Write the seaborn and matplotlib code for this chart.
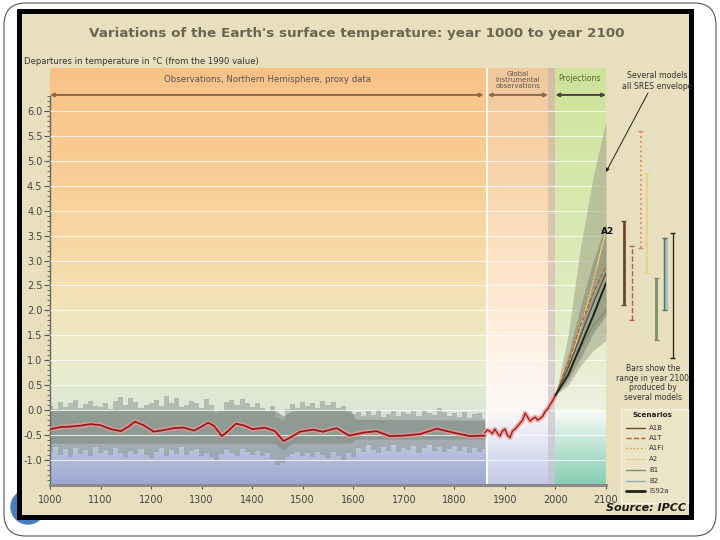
import numpy as np
import pandas as pd
import matplotlib
matplotlib.use("Agg")
import matplotlib.pyplot as plt
import seaborn as sns
from matplotlib.colors import LinearSegmentedColormap
from matplotlib.patches import Rectangle, FancyBboxPatch, Circle
from matplotlib.ticker import FixedLocator

# ---------------- data ----------------
title = "Variations of the Earth's surface temperature: year 1000 to year 2100"
ylabel = "Departures in temperature in \u00b0C (from the 1990 value)"
x_ticks = [1000, 1100, 1200, 1300, 1400, 1500, 1600, 1700, 1800, 1900, 2000, 2100]
y_ticks = [-1.0, -0.5, 0.0, 0.5, 1.0, 1.5, 2.0, 2.5, 3.0, 3.5, 4.0, 4.5, 5.0, 5.5, 6.0]
y_tick_labels = ["-1.0", "-0.5", "0.0", "0.5", "1.0", "1.5", "2.0", "2.5", "3.0",
                 "3.5", "4.0", "4.5", "5.0", "5.5", "6.0"]

proxy_years = [1000, 1020, 1040, 1060, 1080, 1100, 1120, 1140, 1155, 1168, 1185, 1205, 1225, 1245,
               1265, 1285, 1300, 1313, 1325, 1340, 1352, 1368, 1385, 1400, 1425, 1445, 1462, 1475,
               1495, 1520, 1540, 1567, 1592, 1620, 1646, 1672, 1700, 1732, 1765, 1798, 1831, 1860]
proxy_smooth = [-0.38, -0.34, -0.33, -0.31, -0.28, -0.30, -0.38, -0.42, -0.33, -0.23, -0.30, -0.43,
                -0.40, -0.36, -0.35, -0.41, -0.33, -0.25, -0.32, -0.52, -0.42, -0.27, -0.31, -0.38,
                -0.35, -0.42, -0.62, -0.55, -0.43, -0.39, -0.43, -0.36, -0.51, -0.45, -0.42, -0.52,
                -0.51, -0.48, -0.37, -0.45, -0.52, -0.51]

band_years = list(range(1000, 1861, 10))
band_upper = [0.08, 0.02, 0.16, 0.06, 0.14, 0.20, 0.04, 0.12, 0.18, 0.08, 0.06,
              0.14, 0.02, 0.18, 0.26, 0.10, 0.24, 0.16, 0.04, 0.10, 0.14,
              0.20, 0.08, 0.28, 0.14, 0.24, 0.06, 0.10, 0.18, 0.14, 0.04,
              0.22, 0.10, -0.06, 0.00, 0.16, 0.20, 0.10, 0.22, 0.14, 0.06,
              0.14, 0.04, -0.02, 0.08, -0.16, -0.20, 0.02, 0.12, 0.04, 0.16,
              0.08, 0.14, 0.04, 0.18, 0.10, 0.16, 0.04, 0.08, -0.04, -0.08,
              -0.04, -0.12, -0.02, -0.10, 0.00, -0.14, -0.08, -0.02, -0.12, -0.04,
              -0.08, -0.02, -0.12, 0.00, -0.06, -0.10, 0.04, -0.04, -0.12, -0.06,
              -0.14, -0.04, -0.16, -0.08, -0.06, -0.18]
band_lower = [-0.84, -0.74, -0.90, -0.78, -0.94, -0.76, -0.88, -0.80, -0.92, -0.74, -0.86,
              -0.80, -0.90, -0.76, -0.86, -0.94, -0.82, -0.88, -0.78, -0.90, -0.96,
              -0.84, -0.76, -0.92, -0.80, -0.88, -0.74, -0.90, -0.82, -0.78, -0.92,
              -0.86, -0.94, -1.00, -0.88, -0.80, -0.86, -0.92, -0.78, -0.84, -0.90,
              -0.82, -0.92, -0.86, -0.98, -1.10, -1.06, -0.94, -0.88, -0.84, -0.92,
              -0.86, -0.94, -0.84, -0.90, -0.96, -0.84, -0.92, -1.00, -0.86, -0.94,
              -0.76, -0.84, -0.70, -0.80, -0.86, -0.74, -0.82, -0.70, -0.84, -0.76,
              -0.80, -0.72, -0.86, -0.76, -0.70, -0.82, -0.74, -0.84, -0.78, -0.72,
              -0.82, -0.74, -0.86, -0.76, -0.84, -0.78]
core_years = [1000, 1445, 1462, 1480, 1595, 1605, 1860]
core_upper = [0.00, 0.00, -0.12, 0.00, 0.00, -0.18, -0.20]
core_lower = [-0.66, -0.66, -0.80, -0.66, -0.66, -0.58, -0.58]

instr_years = [1860, 1865, 1870, 1875, 1880, 1885, 1890, 1895, 1900, 1905, 1910, 1915, 1920, 1925,
               1930, 1935, 1940, 1945, 1950, 1955, 1960, 1965, 1970, 1975, 1980, 1985, 1990, 1995, 2000]
instr_values = [-0.45, -0.40, -0.42, -0.47, -0.38, -0.46, -0.52, -0.42, -0.38, -0.50, -0.55, -0.42,
                -0.38, -0.32, -0.26, -0.20, -0.06, -0.14, -0.22, -0.17, -0.14, -0.20, -0.16, -0.12,
                -0.02, 0.03, 0.12, 0.20, 0.30]

proj_years = [2000, 2025, 2050, 2075, 2100]
scen_A1B = [0.30, 0.85, 1.50, 2.15, 2.75]
scen_A1T = [0.30, 0.95, 1.70, 2.35, 2.90]
scen_A1FI = [0.30, 0.90, 1.75, 2.60, 3.35]
scen_A2 = [0.30, 0.85, 1.65, 2.60, 3.60]
scen_B1 = [0.30, 0.75, 1.25, 1.70, 2.00]
scen_B2 = [0.30, 0.85, 1.45, 2.05, 2.65]
scen_IS92a = [0.30, 0.70, 1.30, 1.90, 2.55]
env_outer_upper = [0.30, 1.50, 3.30, 4.70, 5.80]
env_outer_lower = [0.30, 0.50, 0.90, 1.20, 1.40]
env_inner_upper = [0.30, 1.10, 2.10, 3.00, 3.75]
env_inner_lower = [0.30, 0.60, 1.05, 1.55, 1.90]

scenario_names = ["A1B", "A1T", "A1FI", "A2", "B1", "B2", "IS92a"]
bar_low = [2.10, 1.80, 3.25, 2.75, 1.40, 2.00, 1.05]
bar_high = [3.80, 3.30, 5.60, 4.75, 2.65, 3.45, 3.55]

# ---------------- styles ----------------
scen_colors = {"A1B": "#6e4a2a", "A1T": "#b0603c", "A1FI": "#d49458", "A2": "#e6d28a",
               "B1": "#7b8f68", "B2": "#8fb0b8", "IS92a": "#1e2418"}
scen_styles = {"A1B": "-", "A1T": "--", "A1FI": ":", "A2": "-", "B1": "-", "B2": "-", "IS92a": "-"}
scen_lw = {"A1B": 1.0, "A1T": 0.9, "A1FI": 1.0, "A2": 0.9, "B1": 0.9, "B2": 1.0, "IS92a": 1.4}
bar_x = [2135, 2151, 2169, 2181, 2199, 2215, 2232]
bar_lw = [2.0, 1.0, 1.3, 1.6, 2.0, 2.6, 0.9]

sns.set_theme(style="white")
plt.rcParams["font.family"] = ["DejaVu Sans"]

fig = plt.figure(figsize=(7.2, 5.4), dpi=100)

# background (pixel coordinates)
bg = fig.add_axes([0, 0, 1, 1], zorder=0)
bg.set_xlim(0, 720); bg.set_ylim(540, 0); bg.axis("off")
bg.add_patch(FancyBboxPatch((4, 3), 712, 533, boxstyle="round,pad=0,rounding_size=22",
                            facecolor="white", edgecolor="#555555", lw=0.8))
bg.add_patch(Circle((28, 507), 17, color="#4a7cc0"))
bg.add_patch(Rectangle((19, 11), 672, 506, facecolor="#e7dfbd", edgecolor="black", lw=3.6))

# main axes
ax = fig.add_axes([50 / 720, 55 / 540, 556 / 720, 417 / 540], zorder=1)
ax.patch.set_visible(False)
Y0, Y1 = -1.5, 6.86


def vgrad(x0, x1, y0, y1, stops, z=0.1):
    cmap = LinearSegmentedColormap.from_list("g", [((s - y0) / (y1 - y0), c) for s, c in stops])
    img = cmap(np.linspace(0, 1, 256))[:, None, :]
    ax.imshow(img, extent=[x0, x1, y0, y1], origin="lower", aspect="auto", zorder=z,
              interpolation="bilinear")


vgrad(1000, 1862, Y0, Y1, [(Y0, "#9ca8cf"), (-1.0, "#b0bad8"), (-0.5, "#c8d0df"), (0.0, "#dce5d6"),
                           (0.6, "#e6ecd0"), (1.5, "#eee9c4"), (3.0, "#f6dba8"), (4.5, "#f8cf98"),
                           (Y1, "#f9c287")])
vgrad(1866, 1985, Y0, Y1, [(Y0, "#c6cae6"), (-1.0, "#d6daee"), (-0.5, "#eaecf4"), (0.0, "#fbf8f4"),
                           (1.0, "#fff4ea"), (3.0, "#fde3c6"), (5.0, "#f8d2a8"), (Y1, "#f0c89c")])
vgrad(1985, 2000, Y0, Y1, [(Y0, "#bfc3d4"), (0.0, "#d8d4d8"), (3.0, "#dcc8b4"), (Y1, "#d6bca4")])
vgrad(2000, 2100, 0.0, Y1, [(0.0, "#eef2e2"), (1.5, "#e2ecc8"), (4.0, "#d8e8b0"), (Y1, "#cfe39a")])
vgrad(2000, 2100, Y0, 0.0, [(Y0, "#86ceb2"), (-0.8, "#b8e2d0"), (0.0, "#f8fbf6")])
ax.axvline(1864, color="white", lw=1.2, zorder=0.2)

# white horizontal lines
for yv in y_ticks:
    ax.axhline(yv, color="white", lw=0.8, alpha=0.75, zorder=3)

# proxy uncertainty band
ax.fill_between(band_years, band_lower, band_upper, step="mid", color="#86948c", alpha=0.5,
                lw=0, zorder=2)
ax.fill_between(core_years, core_lower, core_upper, color="#7c8a7e", alpha=0.6, lw=0, zorder=2)

# proxy smoothed
ax.plot(proxy_years, proxy_smooth, color="#e79a9a", lw=3.6, alpha=0.75, zorder=4,
        solid_capstyle="round")
sns.lineplot(x=proxy_years, y=proxy_smooth, color="#9a1a1a", lw=1.3, ax=ax, zorder=5)

# instrumental
ax.plot(instr_years, instr_values, color="#ee9a9a", lw=3.5, alpha=0.8, zorder=4)
sns.lineplot(x=instr_years, y=instr_values, color="#a01c1c", lw=1.0, ax=ax, zorder=5)

# projections envelopes
ax.fill_between(proj_years, env_outer_lower, env_outer_upper, color="#a4a88c", alpha=0.6, lw=0,
                zorder=3.5)
ax.fill_between(proj_years, env_inner_lower, env_inner_upper, color="#7f8672", alpha=0.55, lw=0,
                zorder=3.6)

scen_values = [scen_A1B, scen_A1T, scen_A1FI, scen_A2, scen_B1, scen_B2, scen_IS92a]
df = pd.DataFrame({"year": np.tile(proj_years, len(scenario_names)),
                   "value": np.concatenate(scen_values),
                   "scenario": np.repeat(scenario_names, len(proj_years))})
for name in ["A2", "A1FI", "B1", "B2", "A1B", "A1T", "IS92a"]:
    sns.lineplot(data=df[df.scenario == name], x="year", y="value", color=scen_colors[name],
                 lw=scen_lw[name], linestyle=scen_styles[name], ax=ax, zorder=6)

# range bars (year 2100) outside plot
for i, name in enumerate(scenario_names):
    ls = scen_styles[name]
    if name == "B2":
        ax.vlines(bar_x[i] + 3, bar_low[i], bar_high[i], color="#a8c0c0", lw=3, clip_on=False)
        ax.vlines(bar_x[i], bar_low[i], bar_high[i], color="#5a6a66", lw=1, clip_on=False)
    else:
        ax.vlines(bar_x[i], bar_low[i], bar_high[i], color=scen_colors[name], lw=bar_lw[i],
                  linestyles=ls, clip_on=False)
    capc = "#5a6a66" if name == "B2" else scen_colors[name]
    ax.hlines([bar_low[i], bar_high[i]], bar_x[i] - 5, bar_x[i] + 5, color=capc, lw=1,
              clip_on=False)

# header labels / arrows
ax.text(1431, 6.62, "Observations, Northern Hemisphere, proxy data", fontsize=6.2,
        color="#555", ha="center", va="center", zorder=7)
ax.text(1926, 6.62, "Global\ninstrumental\nobservations", fontsize=5.0, color="#555",
        ha="center", va="center", linespacing=1.0, zorder=7)
ax.text(2048, 6.64, "Projections", fontsize=5.6, color="#5a6a30", ha="center", va="center",
        zorder=7)
for a, b, c in [(1000, 1858, "#8b6a48"), (1866, 1985, "#8b6a48"), (2000, 2100, "#444")]:
    ax.annotate("", xy=(a, 6.32), xytext=(b, 6.32),
                arrowprops=dict(arrowstyle="<|-|>", color=c, lw=1.4, mutation_scale=5,
                                shrinkA=0, shrinkB=0), zorder=7)

# axes formatting
ax.set_xlim(1000, 2100)
ax.set_ylim(Y0, Y1)
ax.set_xticks(x_ticks)
ax.set_xticklabels([str(v) for v in x_ticks])
ax.set_yticks(y_ticks)
ax.set_yticklabels(y_tick_labels)
ax.yaxis.set_minor_locator(FixedLocator([round(-1.4 + 0.1 * k, 1) for k in range(78)]))
ax.tick_params(axis="y", which="major", left=True, length=4, width=0.8, color="#555",
               labelsize=7, labelcolor="#444", pad=1.5)
ax.tick_params(axis="y", which="minor", left=True, length=2, width=0.6, color="#555")
ax.tick_params(axis="x", which="major", bottom=True, length=3, width=0.8, color="#555",
               labelsize=7, labelcolor="#444", pad=4)
ax.set_xlabel(""); ax.set_ylabel("")
for s in ["top", "right"]:
    ax.spines[s].set_visible(False)
ax.spines["left"].set_bounds(Y0, 6.3)
ax.spines["left"].set_color("#666")
ax.spines["left"].set_linewidth(1.0)
ax.spines["bottom"].set_color("#8a8a8a")
ax.spines["bottom"].set_linewidth(2.2)

# overlay texts (pixel coordinates)
ov = fig.add_axes([0, 0, 1, 1], zorder=3)
ov.set_xlim(0, 720); ov.set_ylim(540, 0); ov.axis("off"); ov.patch.set_visible(False)
ov.text(357, 33, title, fontsize=9.7, fontweight="bold", color="#6a6650", ha="center",
        va="center")
ov.text(24, 61, ylabel, fontsize=6.1, color="#333", ha="left", va="center")
clip = Rectangle((19, 11), 670, 506, transform=ov.transData)
t = ov.text(657, 81, "Several models\nall SRES envelope", fontsize=5.7, color="#333",
            ha="center", va="center", linespacing=1.15)
t.set_clip_path(clip)
ov.annotate("", xy=(606, 172), xytext=(648, 93),
            arrowprops=dict(arrowstyle="-|>", color="#222", lw=0.7, mutation_scale=5,
                            shrinkA=0, shrinkB=0))
ov.text(608, 232, "A2", fontsize=6.5, fontweight="bold", color="#111", ha="center", va="center")
ov.text(653, 383, "Bars show the\nrange in year 2100\nproduced by\nseveral models", fontsize=5.5,
        color="#333", ha="center", va="center", linespacing=1.1)
ov.add_patch(Rectangle((621, 409), 67, 94, facecolor="#ece4c6", edgecolor="#f6f2e4", lw=1.0))
ov.text(652, 415, "Scenarios", fontsize=5.2, color="#222", ha="center", va="center",
        fontweight="bold")
leg_y = [428, 438, 448, 459, 470, 481, 491]
for name, yy in zip(scenario_names, leg_y):
    lw = 2.0 if name == "IS92a" else 1.0
    ov.plot([626, 645], [yy, yy], color=scen_colors[name], lw=lw, linestyle=scen_styles[name])
    ov.text(649, yy, name, fontsize=5.0, color="#333", ha="left", va="center")
ov.text(646, 508, "Source: IPCC", fontsize=8, fontweight="bold", fontstyle="italic",
        color="#1a1a1a", ha="center", va="center")

fig.savefig("out.png", dpi=100)
